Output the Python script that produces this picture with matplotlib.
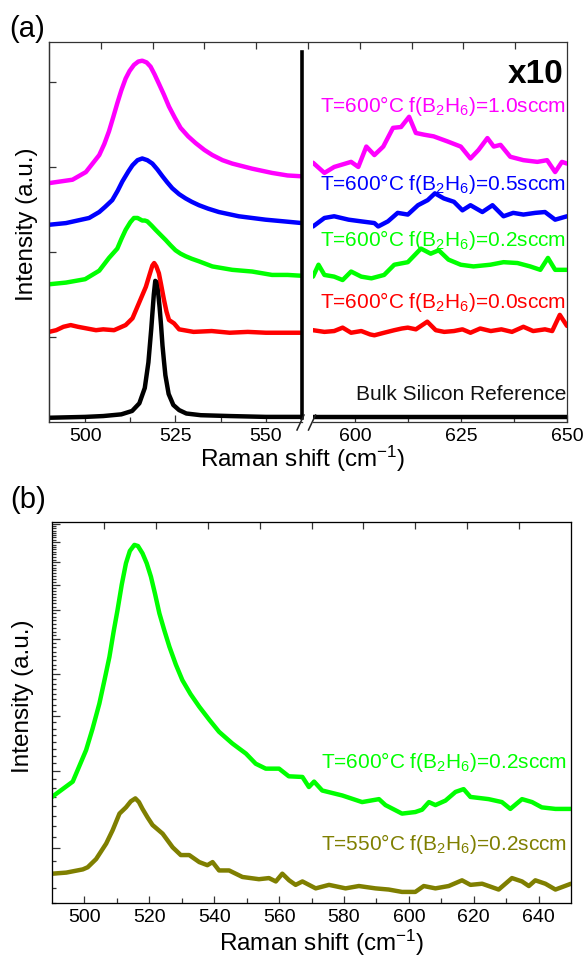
import numpy as np
import matplotlib
matplotlib.use("Agg")
import matplotlib.pyplot as plt
from matplotlib.lines import Line2D
from matplotlib.ticker import FixedLocator, NullFormatter

plt.rcParams["font.family"] = ["Liberation Sans", "DejaVu Sans"]
plt.rcParams["mathtext.default"] = "regular"

W, H = 585, 959

# ── panel (a), left segment 490-560 cm-1 (offset, a.u.) ─────────────────────
bulk_x = [490, 500, 505, 510, 513, 515, 516.5, 517.5, 518.3, 518.7, 519, 519.4, 519.9,
          520.2, 520.6, 521, 521.4, 521.8, 522.2, 523.1, 524.4, 526, 528, 532, 540,
          550, 560]
bulk_y = [0.05, 0.06, 0.07, 0.09, 0.13, 0.22, 0.40, 0.70, 1.10, 1.33, 1.50, 1.66, 1.64,
          1.52, 1.35, 1.14, 0.90, 0.72, 0.55, 0.33, 0.20, 0.14, 0.10, 0.08, 0.07,
          0.06, 0.06]

b00_x = [490, 492, 494, 496, 498, 500.5, 503, 505, 508, 511.2, 513.1, 514.9, 515.8,
         516.8, 517.8, 518.6, 519.1, 519.7, 520.4, 521, 521.8, 522.5, 523.2, 524.6,
         526, 530, 535, 540, 545, 550, 555, 560]
b00_y = [1.06, 1.08, 1.12, 1.14, 1.12, 1.10, 1.08, 1.09, 1.08, 1.14, 1.22, 1.40, 1.49,
         1.59, 1.73, 1.84, 1.87, 1.83, 1.75, 1.62, 1.44, 1.30, 1.20, 1.16,
         1.09, 1.06, 1.07, 1.05, 1.06, 1.05, 1.05, 1.05]

b02_x = [490, 494.7, 500, 503.9, 506.6, 508.9, 510, 511.2, 512.5, 513.5, 514.5, 515.8,
         516.5, 517.2, 518.4, 519.5, 520.9, 522.3, 523.6, 525, 526.4, 527.8, 529.5,
         531.5, 535.2, 540.7, 546.2, 551.7, 556, 560]
b02_y = [1.62, 1.64, 1.68, 1.78, 1.93, 2.04, 2.15, 2.26, 2.35, 2.40, 2.40, 2.37,
         2.37, 2.36, 2.31, 2.26, 2.20, 2.14, 2.08, 2.02, 1.98, 1.95, 1.92,
         1.89, 1.83, 1.79, 1.77, 1.73, 1.73, 1.72]

b05_x = [490, 494.7, 501.1, 503.9, 505.5, 507.5, 509, 510.3, 512, 513.1, 514.5, 515.8,
         517.2, 518.6, 520, 521.4, 522.7, 524.1, 526, 527.8, 529.5, 531.5, 534, 537,
         542.5, 549.9, 555, 560]
b05_y = [2.32, 2.34, 2.40, 2.47, 2.53, 2.61, 2.72, 2.83, 2.95, 3.02, 3.08, 3.10,
         3.08, 3.04, 2.97, 2.89, 2.82, 2.75, 2.68, 2.63, 2.59, 2.55, 2.51, 2.47,
         2.42, 2.38, 2.36, 2.34]

b10_x = [490, 496.5, 500.2, 503.9, 505.3, 506.6, 507.8, 508.9, 510, 511.2, 512.3,
         513.5, 514.7, 515.8, 517, 518.1, 519.2, 520.4, 521.8, 523.2, 524.8, 526.4,
         528.5, 530.6, 533, 535.2, 538, 540.7, 546.2, 551.7, 556, 560]
b10_y = [2.81, 2.85, 2.94, 3.14, 3.27, 3.42, 3.59, 3.75, 3.90, 4.04, 4.13,
         4.20, 4.24, 4.25, 4.23, 4.18, 4.09, 3.98, 3.85, 3.71, 3.58, 3.46,
         3.36, 3.28, 3.20, 3.14, 3.08, 3.04, 2.98, 2.93, 2.90, 2.89]

# ── panel (a), right segment 590-650 cm-1 (x10) ──────────────────────────────
bulk_rx = [590, 650]
bulk_ry = [0.06, 0.06]

b00_rx = [590, 592.7, 595, 597, 599, 601.4, 603.5, 604.5, 606.8, 609.2, 611, 612.4,
          614.3, 617, 619, 621, 623.3, 625.3, 627.2, 629.5, 632, 634.5, 637, 639.7,
          642, 644.8, 646.5, 648.3, 650]
b00_ry = [1.08, 1.06, 1.07, 1.11, 1.05, 1.07, 1.03, 1.02, 1.05, 1.08, 1.10, 1.11,
          1.09, 1.18, 1.08, 1.06, 1.07, 1.09, 1.05, 1.10, 1.07, 1.09, 1.06, 1.12,
          1.07, 1.09, 1.07, 1.26, 1.13]

b02_rx = [590, 591.3, 592.7, 595, 597, 599, 601.4, 603.8, 606.8, 609.2, 612.4,
          615.5, 617.8, 619.7, 622, 624.9, 627.9, 631.9, 635, 638.3, 641.3, 643.7,
          645.5, 647.2, 650]
b02_ry = [1.71, 1.85, 1.73, 1.71, 1.67, 1.77, 1.71, 1.69, 1.73, 1.85, 1.88,
          2.04, 1.98, 2.02, 1.91, 1.85, 1.83, 1.85, 1.88, 1.87, 1.83, 1.79,
          1.93, 1.79, 1.79]

b05_rx = [590, 592.7, 595, 598.4, 601.4, 604.5, 605.4, 607.7, 610, 612.4, 614.8,
          617.1, 618.8, 620.9, 623.3, 625.3, 627.2, 630, 632.4, 635, 637.3, 639.7,
          642.5, 644.8, 647.2, 650]
b05_ry = [2.30, 2.40, 2.42, 2.38, 2.36, 2.34, 2.30, 2.36, 2.46, 2.44, 2.55,
          2.61, 2.69, 2.63, 2.59, 2.49, 2.55, 2.47, 2.55, 2.42, 2.46, 2.44,
          2.46, 2.47, 2.38, 2.42]

b10_rx = [590, 592.7, 595, 599, 600.7, 602.6, 604.5, 606.6, 608.9, 610.8, 612.7,
          614.3, 616.2, 618.5, 621.8, 624.9, 627.2, 629.1, 631.2, 632.7, 634.3,
          636.6, 639.7, 643, 645.3, 647.2, 648.8, 650]
b10_ry = [3.05, 2.93, 3.00, 3.06, 3.00, 3.24, 3.14, 3.24, 3.46, 3.47, 3.59,
          3.40, 3.38, 3.36, 3.30, 3.24, 3.10, 3.20, 3.34, 3.24, 3.26,
          3.12, 3.08, 3.06, 3.08, 2.94, 3.06, 3.04]

# ── panel (b), log intensity ─────────────────────────────────────────────────
t600_x = [490, 496.4, 500.5, 502.5, 504.6, 506.2, 507.7, 509, 510.2, 511.5, 512.8,
          514, 515.4, 516.5, 517.9, 519.2, 520.5, 521.8, 523.1, 524.6, 526.2, 528.2,
          530.2, 532.7, 535.4, 538.5, 541.5, 545.6, 549.8, 552.8, 555.9, 560, 563,
          567.2, 569.2, 570.8, 573.3, 579.5, 585.6, 590.8, 592.8, 597.9, 602, 604.1,
          606.2, 608.2, 611.3, 614.4, 616.9, 619, 624.6, 628.7, 631.3, 634.9, 638,
          641, 645.2, 650]
t600_y = [2.62, 2.84, 3.35, 3.75, 4.28, 4.85, 5.47, 6.25, 7.00, 8.00, 8.95,
          9.55, 9.86, 9.80, 9.43, 8.95, 8.34, 7.60, 6.88, 6.30, 5.77, 5.25,
          4.84, 4.50, 4.21, 3.93, 3.69, 3.47, 3.29, 3.12, 3.04, 3.04, 2.92,
          2.91, 2.76, 2.84, 2.71, 2.64, 2.55, 2.59, 2.51, 2.40, 2.42, 2.45,
          2.55, 2.51, 2.57, 2.69, 2.73, 2.62, 2.59, 2.55, 2.46, 2.59, 2.55,
          2.48, 2.46, 2.46]

t550_x = [490, 494.4, 499.5, 501, 503.6, 506.7, 508.7, 510.8, 512.8, 514.3, 515.7,
          516.8, 517.9, 519.5, 521, 524.1, 527.2, 529.7, 532.3, 535.4, 537.9, 539.5,
          541.5, 544.6, 548.7, 553.8, 556.9, 559, 561, 563.1, 565.1, 567.2, 571.3,
          575.4, 580.5, 584.6, 589.7, 593.8, 597.9, 602, 604.6, 608.2, 612.3, 616.4,
          619, 622.6, 627.7, 631.8, 634.9, 637, 639, 642.1, 645.2, 650]
t550_y = [1.75, 1.76, 1.79, 1.81, 1.89, 2.05, 2.20, 2.40, 2.48, 2.56, 2.60,
          2.55, 2.46, 2.35, 2.26, 2.16, 2.01, 1.93, 1.93, 1.86, 1.83, 1.86,
          1.78, 1.78, 1.72, 1.70, 1.71, 1.68, 1.75, 1.69, 1.65, 1.68, 1.62,
          1.65, 1.62, 1.64, 1.62, 1.61, 1.59, 1.59, 1.64, 1.62, 1.64, 1.69,
          1.65, 1.66, 1.61, 1.71, 1.68, 1.64, 1.69, 1.66, 1.61, 1.66]

MAGENTA, BLUE, GREEN, RED, OLIVE = "#FF00FF", "#0000FF", "#00FF00", "#FF0000", "#7F7F00"
LW = 3.2
TICK_FS = 14
LABEL_FS = 17.5
NOTE_FS = 15


def frac(px, py):
    return px / W, 1 - py / H


def style_ticks(ax):
    ax.tick_params(which="both", direction="in", labelsize=TICK_FS, pad=4,
                   color="#333333", width=0.9)
    ax.tick_params(which="major", length=5)
    ax.tick_params(which="minor", length=3.5)


def curve(ax, x, y, color):
    ax.plot(x, y, color=color, lw=LW, solid_joinstyle="round", solid_capstyle="round")


fig = plt.figure(figsize=(W / 100, H / 100), dpi=100)

# ── panel (a) ────────────────────────────────────────────────────────────────
a_bottom = 1 - 422 / H
a_height = 380 / H

frame = fig.add_axes([49 / W, a_bottom, 518 / W, a_height], zorder=0)
frame.set_xlim(0, 1)
frame.set_ylim(0, 1)
frame.spines["bottom"].set_visible(False)
frame.xaxis.set_ticks_position("top")
frame.set_xticks(np.arange(0.1, 0.95, 0.1))
frame.set_xticklabels([])
frame.set_yticks([])
style_ticks(frame)
for s in frame.spines.values():
    s.set_linewidth(0.9)
    s.set_color("#333333")

ax1 = fig.add_axes([49 / W, a_bottom, 253 / W, a_height], zorder=1)
ax2 = fig.add_axes([313 / W, a_bottom, 254 / W, a_height], zorder=1)
for ax in (ax1, ax2):
    ax.patch.set_visible(False)
    ax.spines["top"].set_visible(False)
    ax.spines["right"].set_visible(False)
    ax.set_ylim(0, 4.47)
    style_ticks(ax)
    ax.spines["bottom"].set_linewidth(0.9)
    ax.spines["bottom"].set_color("#333333")
    ax.spines["left"].set_linewidth(0.9)
    ax.spines["left"].set_color("#333333")
ax2.spines["left"].set_visible(False)

ax1.set_xlim(490, 560)
ax1.set_xticks([500, 525, 550])
ax1.xaxis.set_minor_locator(FixedLocator([512.5, 537.5]))
ax1.set_yticks([1, 2, 3, 4])
ax1.set_yticklabels([])

ax2.set_xlim(590, 650)
ax2.set_xticks([600, 625, 650])
ax2.xaxis.set_minor_locator(FixedLocator([612.5, 637.5]))
ax2.set_yticks([])

for ax, pairs in ((ax1, [(bulk_x, bulk_y, "k"), (b00_x, b00_y, RED), (b02_x, b02_y, GREEN),
                         (b05_x, b05_y, BLUE), (b10_x, b10_y, MAGENTA)]),
                  (ax2, [(bulk_rx, bulk_ry, "k"), (b00_rx, b00_ry, RED), (b02_rx, b02_ry, GREEN),
                         (b05_rx, b05_ry, BLUE), (b10_rx, b10_ry, MAGENTA)])):
    for x, y, c in pairs:
        curve(ax, x, y, c)

# break bar and axis break marks
ax1.axvline(560, ymin=4 / 380, ymax=370 / 380, color="k", lw=2.6, clip_on=False)
for x0 in (297, 308.5):
    p0 = frac(x0, 430)
    p1 = frac(x0 + 7, 415)
    fig.add_artist(Line2D([p0[0], p1[0]], [p0[1], p1[1]], transform=fig.transFigure,
                          color="#222222", lw=1.1))

notes_a = [
    ("T=600°C f(B$_2$H$_6$)=1.0sccm", MAGENTA, 0.817),
    ("T=600°C f(B$_2$H$_6$)=0.5sccm", BLUE, 0.611),
    ("T=600°C f(B$_2$H$_6$)=0.2sccm", GREEN, 0.463),
    ("T=600°C f(B$_2$H$_6$)=0.0sccm", RED, 0.300),
    ("Bulk Silicon Reference", "#111111", 0.058),
]
for txt, c, yb in notes_a:
    ax2.text(0.997, yb, txt, color=c, fontsize=NOTE_FS, ha="right", va="baseline",
             transform=ax2.transAxes, zorder=5)
ax2.text(0.985, 0.891, "x10", fontsize=24, fontweight="bold", ha="right", va="baseline",
         transform=ax2.transAxes, zorder=5)

fig.text(*frac(303, 459), "Raman shift (cm$^{-1}$)", fontsize=LABEL_FS, ha="center", va="center")
fig.text(*frac(27, 224), "Intensity (a.u.)", fontsize=LABEL_FS, rotation=90,
         ha="center", va="center")
fig.text(*frac(27, 29), "(a)", fontsize=21, ha="center", va="center")

# ── panel (b) ────────────────────────────────────────────────────────────────
ax3 = fig.add_axes([52 / W, 1 - 903 / H, 519 / W, 381 / H])
ax3.set_yscale("log")
ax3.set_xlim(490, 650)
ax3.set_ylim(1.5, 11.12)
curve(ax3, t600_x, t600_y, GREEN)
curve(ax3, t550_x, t550_y, OLIVE)

ax3.set_xticks(np.arange(500, 641, 20))
ax3.xaxis.set_minor_locator(FixedLocator(np.arange(510, 650, 20)))
major_y = np.arange(2, 12)
minor_y = [v for v in np.arange(1.5, 11.1, 0.125) if abs(v - round(v)) > 1e-6]
ax3.yaxis.set_major_locator(FixedLocator(major_y))
ax3.yaxis.set_minor_locator(FixedLocator(minor_y))
ax3.yaxis.set_major_formatter(NullFormatter())
ax3.yaxis.set_minor_formatter(NullFormatter())
style_ticks(ax3)
ax3.tick_params(axis="y", which="major", length=6)
ax3.tick_params(axis="y", which="minor", length=3)
for s in ax3.spines.values():
    s.set_linewidth(0.9)
    s.set_color("#333333")

top3 = ax3.twiny()
top3.set_xlim(0, 1)
top3.set_xticks(np.arange(0.1, 0.95, 0.1))
top3.set_xticklabels([])
style_ticks(top3)

notes_b = [
    ("T=600°C f(B$_2$H$_6$)=0.2sccm", GREEN, 0.354),
    ("T=550°C f(B$_2$H$_6$)=0.2sccm", OLIVE, 0.139),
]
for txt, c, yb in notes_b:
    ax3.text(0.992, yb, txt, color=c, fontsize=NOTE_FS, ha="right", va="baseline",
             transform=ax3.transAxes)

fig.text(*frac(322, 943), "Raman shift (cm$^{-1}$)", fontsize=LABEL_FS, ha="center", va="center")
fig.text(*frac(23, 696), "Intensity (a.u.)", fontsize=LABEL_FS, rotation=90,
         ha="center", va="center")
fig.text(*frac(28, 500), "(b)", fontsize=21, ha="center", va="center")

fig.savefig("out.png", dpi=100)
